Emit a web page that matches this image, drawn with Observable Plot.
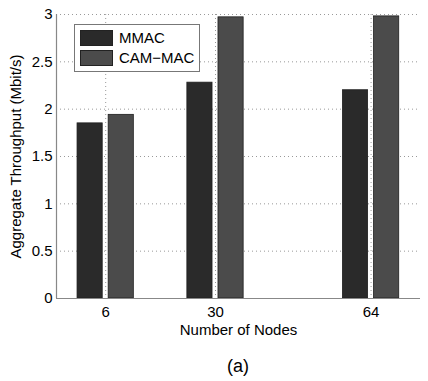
<!DOCTYPE html>
<html>
<head>
<meta charset="utf-8">
<script src="https://cdn.jsdelivr.net/npm/d3@7"></script>
<script src="https://cdn.jsdelivr.net/npm/@observablehq/plot@0.6"></script>
<style>
  html, body { margin: 0; padding: 0; background: #fff; }
  body { width: 428px; height: 381px; position: relative; overflow: hidden;
         font-family: "Liberation Sans", Arial, Helvetica, sans-serif; }
  #legend { position: absolute; left: 74px; top: 24px; width: 124px; height: 46px;
            border: 1px solid #777; background: #fff; }
  .item { position: absolute; left: 5px; height: 16px; font-size: 15px; color: #000; }
  .sw { position: absolute; left: 0; top: 0; width: 33px; height: 16px; box-sizing: border-box; border: 1px solid #222; }
  .lab { position: absolute; left: 39px; top: -1px; line-height: 18px; white-space: nowrap; }
  #caption { position: absolute; left: 0; width: 476px; top: 356px; text-align: center; font-size: 18px; }
</style>
</head>
<body>
<div id="chart"></div>
<div id="legend"></div>
<div id="caption">(a)</div>
<script>
const nodes = [6, 30, 64];
const series = ["MMAC", "CAM\u2212MAC"];
const mmac = [1.85, 2.28, 2.20];
const cammac = [1.94, 2.97, 2.98];
const colors = ["#2a2a2a", "#4b4b4b"];
const yTicks = [0, 0.5, 1, 1.5, 2, 2.5, 3];
const xDomain = [-4.75, 74.8];
const yDomain = [0, 3];

const data = [];
nodes.forEach((n, i) => {
  data.push({nodes: n, series: series[0], value: mmac[i], side: -1});
  data.push({nodes: n, series: series[1], value: cammac[i], side: 1});
});

const inner = 0.65, outer = 6.15;
const fontFamily = '"Liberation Sans", Arial, Helvetica, sans-serif';

const chart = Plot.plot({
  width: 428,
  height: 340,
  marginLeft: 56,
  marginRight: 8,
  marginTop: 14,
  marginBottom: 42,
  style: {fontSize: "15px", fontFamily, color: "#000", background: "#fff", overflow: "visible"},
  x: {domain: xDomain, ticks: nodes, tickFormat: d => String(d)},
  y: {domain: yDomain, ticks: yTicks, tickFormat: d => String(d)},
  color: {domain: series, range: colors},
  marks: [
    Plot.gridY(yTicks.filter(t => t > 0), {stroke: "#999", strokeOpacity: 1, strokeDasharray: "1,3", strokeWidth: 1}),
    Plot.gridX(nodes, {stroke: "#999", strokeOpacity: 1, strokeDasharray: "1,3", strokeWidth: 1}),
    Plot.rectY(data, {
      x1: d => d.side < 0 ? d.nodes - outer : d.nodes + inner,
      x2: d => d.side < 0 ? d.nodes - inner : d.nodes + outer,
      y1: 0, y2: "value",
      fill: "series", stroke: "#1e1e1e", strokeWidth: 0.8
    }),
    Plot.ruleY([yDomain[0]], {stroke: "#888", strokeWidth: 1.2}),
    Plot.ruleX([xDomain[0]], {y1: yDomain[0], y2: yDomain[1], stroke: "#888", strokeWidth: 1.2}),
    Plot.axisX({ticks: nodes, tickSize: 0, tickPadding: 8, tickFormat: d => String(d),
      label: "Number of Nodes", labelAnchor: "center", labelOffset: 36, labelArrow: "none"}),
    Plot.axisY({ticks: yTicks, tickSize: 0, tickPadding: 4, tickFormat: d => String(d),
      label: "Aggregate Throughput (Mbit/s)", labelAnchor: "center", labelOffset: 46, labelArrow: "none"})
  ]
});
document.getElementById("chart").appendChild(chart);

const legend = document.getElementById("legend");
series.forEach((s, i) => {
  const item = document.createElement("div");
  item.className = "item";
  item.style.top = (5 + i * 20) + "px";
  const sw = document.createElement("div");
  sw.className = "sw";
  sw.style.background = colors[i];
  const lab = document.createElement("div");
  lab.className = "lab";
  lab.textContent = s;
  item.appendChild(sw);
  item.appendChild(lab);
  legend.appendChild(item);
});
</script>
</body>
</html>
